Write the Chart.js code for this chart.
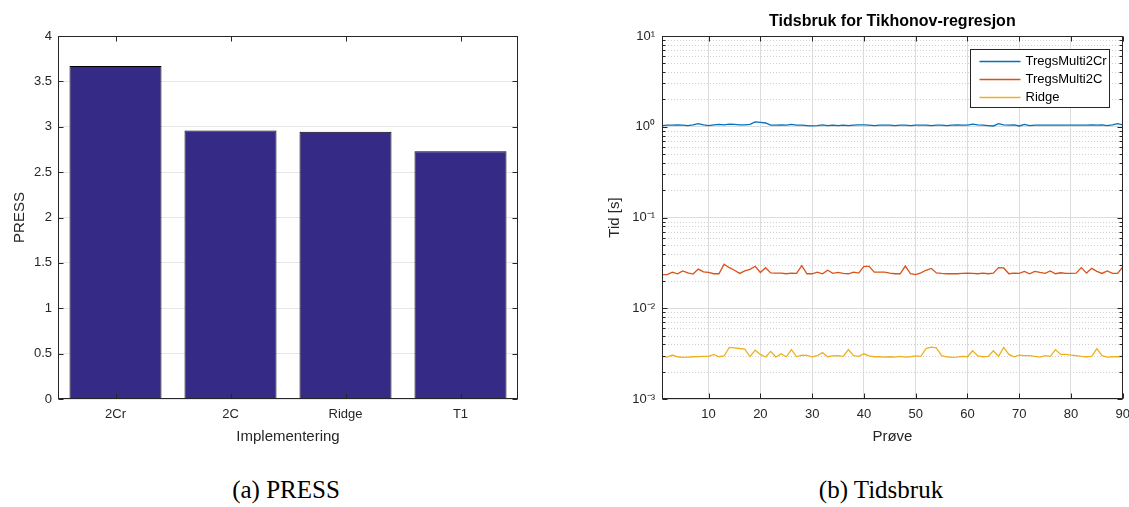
<!DOCTYPE html>
<html>
<head>
<meta charset="utf-8">
<script src="https://cdn.jsdelivr.net/npm/chart.js@4.4.1/dist/chart.umd.min.js"></script>
<style>
  body { margin: 0; background: #fff; width: 1129px; height: 507px; position: relative; overflow: hidden; }
  canvas { position: absolute; top: 0; }
  #press { left: 0; }
  #tid { left: 600px; }
  .cap { position: absolute; top: 476px; font-family: "Liberation Serif", serif; font-size: 25px; color: #000; transform: translateX(-50%); white-space: nowrap; }
</style>
</head>
<body>
<canvas id="press" width="560" height="460"></canvas>
<canvas id="tid" width="538" height="460"></canvas>
<div class="cap" style="left:286px">(a) PRESS</div>
<div class="cap" style="left:881px">(b) Tidsbruk</div>
<script>
// (a) PRESS
var pressCategories = ["2Cr", "2C", "Ridge", "T1"];
var pressValues = [3.67, 2.96, 2.945, 2.73];
var pressTicks = [0, 0.5, 1, 1.5, 2, 2.5, 3, 3.5, 4];
var pressTickLabels = ["0", "0.5", "1", "1.5", "2", "2.5", "3", "3.5", "4"];

// (b) Tidsbruk
var sampleNumbers = [1, 2, 3, 4, 5, 6, 7, 8, 9, 10, 11, 12, 13, 14, 15, 16, 17, 18, 19, 20,
  21, 22, 23, 24, 25, 26, 27, 28, 29, 30, 31, 32, 33, 34, 35, 36, 37, 38, 39, 40,
  41, 42, 43, 44, 45, 46, 47, 48, 49, 50, 51, 52, 53, 54, 55, 56, 57, 58, 59, 60,
  61, 62, 63, 64, 65, 66, 67, 68, 69, 70, 71, 72, 73, 74, 75, 76, 77, 78, 79, 80,
  81, 82, 83, 84, 85, 86, 87, 88, 89, 90];
var tregs2Cr = [1.03, 1.04, 1.04, 1.05, 1.04, 1.03, 1.05, 1.08, 1.05, 1.03,
  1.05, 1.06, 1.05, 1.07, 1.06, 1.05, 1.05, 1.06, 1.13, 1.12,
  1.10, 1.04, 1.04, 1.05, 1.04, 1.06, 1.04, 1.04, 1.03, 1.02,
  1.03, 1.05, 1.03, 1.04, 1.03, 1.04, 1.03, 1.04, 1.05, 1.05,
  1.04, 1.03, 1.04, 1.04, 1.04, 1.03, 1.04, 1.04, 1.03, 1.04,
  1.04, 1.04, 1.03, 1.04, 1.04, 1.03, 1.04, 1.05, 1.04, 1.04,
  1.07, 1.05, 1.04, 1.03, 1.02, 1.08, 1.05, 1.04, 1.05, 1.02,
  1.06, 1.03, 1.04, 1.04, 1.04, 1.04, 1.04, 1.04, 1.04, 1.04,
  1.04, 1.04, 1.04, 1.05, 1.04, 1.05, 1.03, 1.05, 1.08, 1.05];
var tregs2C = [0.0235, 0.0235, 0.0250, 0.0240, 0.0258, 0.0245, 0.0238, 0.0270, 0.0252, 0.0248,
  0.0240, 0.0240, 0.0305, 0.0280, 0.0262, 0.0242, 0.0258, 0.0268, 0.0290, 0.0248,
  0.0280, 0.0245, 0.0244, 0.0244, 0.0240, 0.0244, 0.0242, 0.0295, 0.0240, 0.0240,
  0.0250, 0.0240, 0.0262, 0.0242, 0.0248, 0.0242, 0.0240, 0.0250, 0.0244, 0.0290,
  0.0290, 0.0250, 0.0250, 0.0250, 0.0244, 0.0240, 0.0240, 0.0292, 0.0240, 0.0235,
  0.0245, 0.0262, 0.0275, 0.0245, 0.0242, 0.0240, 0.0240, 0.0240, 0.0242, 0.0244,
  0.0242, 0.0240, 0.0244, 0.0240, 0.0244, 0.0280, 0.0278, 0.0240, 0.0244, 0.0242,
  0.0255, 0.0240, 0.0255, 0.0248, 0.0242, 0.0258, 0.0240, 0.0246, 0.0242, 0.0242,
  0.0244, 0.0280, 0.0244, 0.0275, 0.0255, 0.0242, 0.0258, 0.0242, 0.0242, 0.0285];
var ridge = [0.00295, 0.00290, 0.00305, 0.00292, 0.00288, 0.00290, 0.00292, 0.00293, 0.00295, 0.00295,
  0.00310, 0.00292, 0.00298, 0.00370, 0.00365, 0.00360, 0.00355, 0.00292, 0.00345, 0.00310,
  0.00290, 0.00335, 0.00290, 0.00315, 0.00292, 0.00350, 0.00292, 0.00305, 0.00302, 0.00292,
  0.00300, 0.00325, 0.00292, 0.00298, 0.00300, 0.00295, 0.00350, 0.00300, 0.00295, 0.00315,
  0.00298, 0.00292, 0.00292, 0.00290, 0.00292, 0.00290, 0.00295, 0.00290, 0.00292, 0.00298,
  0.00295, 0.00360, 0.00372, 0.00365, 0.00300, 0.00292, 0.00288, 0.00290, 0.00295, 0.00292,
  0.00340, 0.00298, 0.00292, 0.00295, 0.00340, 0.00295, 0.00370, 0.00310, 0.00292, 0.00305,
  0.00300, 0.00300, 0.00295, 0.00290, 0.00300, 0.00295, 0.00350, 0.00310, 0.00310, 0.00305,
  0.00300, 0.00295, 0.00292, 0.00295, 0.00358, 0.00300, 0.00290, 0.00292, 0.00292, 0.00295];
var seriesNames = ["TregsMulti2Cr", "TregsMulti2C", "Ridge"];
var xTicks = [10, 20, 30, 40, 50, 60, 70, 80, 90];
var yMajorTicks = [0.001, 0.01, 0.1, 1, 10];
var yTickLabels = ["10\u207B\u00B3", "10\u207B\u00B2", "10\u207B\u00B9", "10\u2070", "10\u00B9"];
var yMinorTicks = [0.002, 0.003, 0.004, 0.005, 0.006, 0.007, 0.008, 0.009,
  0.02, 0.03, 0.04, 0.05, 0.06, 0.07, 0.08, 0.09,
  0.2, 0.3, 0.4, 0.5, 0.6, 0.7, 0.8, 0.9,
  2, 3, 4, 5, 6, 7, 8, 9];

var FONT = "'Liberation Sans', Arial, sans-serif";
var TXT = "#262626";

// matlab-ish axes: box + inward ticks, optional dotted minor grid, title over plot, boxed legend
var axesBox = {
  id: "axesBox",
  beforeDatasetsDraw: function (chart, args, opts) {
    if (!opts.minor) return;
    var a = chart.chartArea, y = chart.scales.y, ctx = chart.ctx;
    ctx.save();
    ctx.strokeStyle = "#cfcfcf"; ctx.lineWidth = 1; ctx.setLineDash([1, 2]);
    opts.minor.forEach(function (v) {
      var py = Math.round(y.getPixelForValue(v)) + 0.5;
      ctx.beginPath(); ctx.moveTo(a.left, py); ctx.lineTo(a.right, py); ctx.stroke();
    });
    ctx.restore();
  },
  afterDatasetsDraw: function (chart, args, opts) {
    var a = chart.chartArea, x = chart.scales.x, y = chart.scales.y, ctx = chart.ctx;
    var L = Math.round(a.left) + 0.5, R = Math.round(a.right) - 0.5, T = Math.round(a.top) + 0.5, B = Math.round(a.bottom) - 0.5;
    ctx.save();
    ctx.strokeStyle = TXT; ctx.lineWidth = 1;
    ctx.strokeRect(L, T, R - L, B - T);
    ctx.beginPath();
    x.ticks.forEach(function (t, i) {
      var px = Math.round(x.getPixelForTick(i)) + 0.5;
      ctx.moveTo(px, T); ctx.lineTo(px, T + 5);
      ctx.moveTo(px, B); ctx.lineTo(px, B - 5);
    });
    y.ticks.forEach(function (t, i) {
      var py = Math.round(y.getPixelForTick(i)) + 0.5;
      ctx.moveTo(L, py); ctx.lineTo(L + 5, py);
      ctx.moveTo(R, py); ctx.lineTo(R - 5, py);
    });
    (opts.minor || []).forEach(function (v) {
      var py = Math.round(y.getPixelForValue(v)) + 0.5;
      ctx.moveTo(L, py); ctx.lineTo(L + 3, py);
      ctx.moveTo(R, py); ctx.lineTo(R - 3, py);
    });
    ctx.stroke();
    if (opts.title) {
      ctx.fillStyle = "#000"; ctx.font = "bold 16px " + FONT;
      ctx.textAlign = "center"; ctx.textBaseline = "middle";
      ctx.fillText(opts.title, (a.left + a.right) / 2, 22);
    }
    if (opts.legend) {
      var w = 139, h = 58, bx = Math.round(a.right) - 14 - w + 0.5, by = Math.round(a.top) + 13 + 0.5;
      ctx.fillStyle = "#fff"; ctx.fillRect(bx, by, w, h);
      ctx.strokeStyle = "#262626"; ctx.strokeRect(bx, by, w, h);
      ctx.font = "13px " + FONT; ctx.textBaseline = "middle"; ctx.textAlign = "left";
      chart.data.datasets.forEach(function (ds, i) {
        var ry = by + 12 + i * 18;
        ctx.strokeStyle = ds.borderColor; ctx.lineWidth = 1.5;
        ctx.beginPath(); ctx.moveTo(bx + 9, ry); ctx.lineTo(bx + 50, ry); ctx.stroke();
        ctx.fillStyle = "#000"; ctx.fillText(ds.label, bx + 55, ry);
      });
    }
    ctx.restore();
  }
};

new Chart(document.getElementById("press").getContext("2d"), {
  type: "bar",
  data: {
    labels: pressCategories,
    datasets: [{ data: pressValues, backgroundColor: "#352a86", borderColor: "#000", borderWidth: 1, barPercentage: 0.8, categoryPercentage: 1 }]
  },
  options: {
    responsive: false, animation: false,
    layout: { padding: { left: 7, right: 42, top: 36, bottom: 10 } },
    plugins: { legend: { display: false }, tooltip: { enabled: false }, axesBox: {} },
    scales: {
      x: {
        grid: { display: false, drawTicks: false }, border: { display: false },
        ticks: { padding: 8, color: TXT, font: { family: FONT, size: 13 } },
        title: { display: true, text: "Implementering", color: TXT, font: { family: FONT, size: 15 } },
        afterFit: function (s) { s.height = 51; }
      },
      y: {
        min: 0, max: 4,
        afterBuildTicks: function (s) { s.ticks = pressTicks.map(function (v) { return { value: v }; }); },
        grid: { color: "#e6e6e6", drawTicks: false }, border: { display: false },
        ticks: { padding: 6, color: TXT, autoSkip: false, font: { family: FONT, size: 13 }, callback: function (v, i) { return pressTickLabels[i]; } },
        title: { display: true, text: "PRESS", color: TXT, font: { family: FONT, size: 15 } },
        afterFit: function (s) { s.width = 51; }
      }
    }
  },
  plugins: [axesBox]
});

var lineColors = ["#0072BD", "#D95319", "#EDB120"];
var seriesData = [tregs2Cr, tregs2C, ridge];

new Chart(document.getElementById("tid").getContext("2d"), {
  type: "line",
  data: {
    labels: sampleNumbers,
    datasets: seriesData.map(function (d, i) {
      return { label: seriesNames[i], data: d, borderColor: lineColors[i], borderWidth: 1.3, pointRadius: 0, tension: 0, fill: false };
    })
  },
  options: {
    responsive: false, animation: false,
    layout: { padding: { left: 2, right: 0, top: 36, bottom: 10 } },
    plugins: {
      legend: { display: false }, tooltip: { enabled: false },
      axesBox: { minor: yMinorTicks, legend: true, title: "Tidsbruk for Tikhonov-regresjon" }
    },
    scales: {
      x: {
        type: "linear", min: 1, max: 90,
        afterBuildTicks: function (s) { s.ticks = xTicks.map(function (v) { return { value: v }; }); },
        grid: { color: "#dcdcdc", drawTicks: false }, border: { display: false },
        ticks: { padding: 8, color: TXT, autoSkip: false, maxRotation: 0, font: { family: FONT, size: 13 } },
        title: { display: true, text: "Pr\u00F8ve", color: TXT, font: { family: FONT, size: 15 } },
        afterFit: function (s) { s.height = 51; }
      },
      y: {
        type: "logarithmic", min: 0.001, max: 10,
        afterBuildTicks: function (s) { s.ticks = yMajorTicks.map(function (v) { return { value: v }; }); },
        grid: { color: "#dcdcdc", drawTicks: false }, border: { display: false },
        ticks: { padding: 7, color: TXT, autoSkip: false, font: { family: FONT, size: 13 }, callback: function (v, i) { return yTickLabels[i]; } },
        title: { display: true, text: "Tid [s]", color: TXT, font: { family: FONT, size: 15 } },
        afterFit: function (s) { s.width = 60; }
      }
    }
  },
  plugins: [axesBox]
});
</script>
</body>
</html>
